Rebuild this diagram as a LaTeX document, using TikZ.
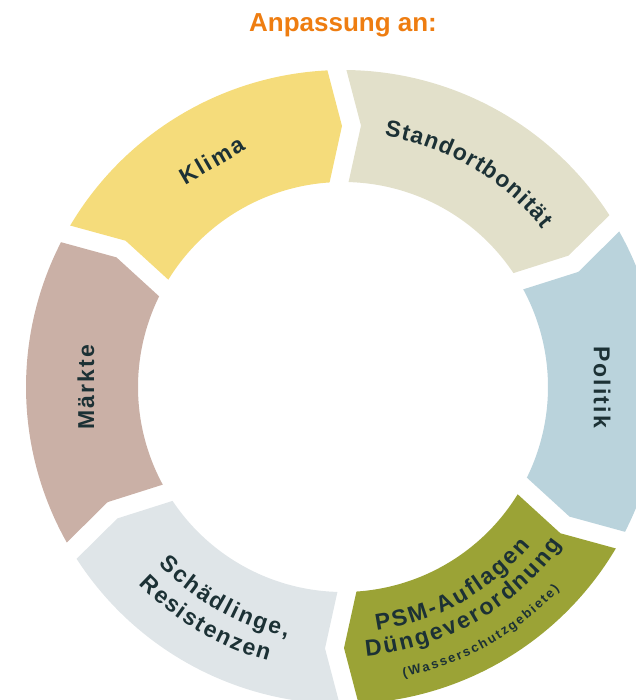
\documentclass[tikz,border=0pt]{standalone}
\usepackage{fontspec}
\setmainfont{Liberation Sans}
\usetikzlibrary{calc,decorations.text}
\definecolor{cKlima}{HTML}{F5DC7B}
\definecolor{cStand}{HTML}{E2E0CA}
\definecolor{cPol}{HTML}{BAD3DC}
\definecolor{cPSM}{HTML}{9BA336}
\definecolor{cSch}{HTML}{DFE5E8}
\definecolor{cMar}{HTML}{CAB0A6}
\definecolor{cText}{HTML}{1C3135}
\definecolor{cTitle}{HTML}{EE7D11}
\newcommand{\labsty}{\bfseries\fontsize{23}{27}\selectfont}
\newcommand{\smsty}{\bfseries\fontsize{13}{15}\selectfont}
\newcommand{\kA}{\kern1.2pt}
\newcommand{\kB}{\kern2.1pt}
\newcommand{\kC}{\kern1.75pt}
\newcommand{\kD}{\kern2.2pt}
\newcommand{\kE}{\kern2.4pt}
\newcommand{\kF}{\kern2.0pt}
\newcommand{\lk}{\kern2.15pt}
\makeatletter
\def\lsp#1{\lsp@i#1\@nil}
\def\lsp@i#1{\ifx#1\@nil\unkern\else#1\lk\expandafter\lsp@i\fi}
\makeatother
\tikzset{
  lab/.style={text=cText, font=\labsty, inner sep=0pt},
  titlesty/.style={text=cTitle, font=\bfseries\fontsize{26}{30}\selectfont, inner sep=0pt},
  curved/.style={decorate, decoration={text along path, text align=center, text color=cText, text={#1}}}
}
\begin{document}
\begin{tikzpicture}[x=1pt,y=1pt]
\useasboundingbox (-343,-313) rectangle (292,387);
\def\R{317}\def\r{205}\def\m{261}\def\g{9.5}\def\h{13.5}
\pgfmathsetmacro\aR{asin(\g/\R)}
\pgfmathsetmacro\ar{asin(\g/\r)}
\foreach \s/\col in {151.1/cKlima, 91.1/cStand, 31.1/cPol, -28.9/cPSM, -88.9/cSch, -148.9/cMar} {
  \pgfmathsetmacro\e{\s-60}
  \pgfmathsetmacro\aA{\s-\aR}
  \pgfmathsetmacro\aB{\e+\aR}
  \pgfmathsetmacro\aC{\e+\ar}
  \pgfmathsetmacro\aD{\s-\ar}
  \pgfmathsetmacro\eT{\e-90}
  \pgfmathsetmacro\sT{\s-90}
  \pgfmathsetmacro\tipoff{\h-\g}
  \pgfmathsetmacro\notchoff{\h+\g}
  \fill[\col] (\aA:\R pt) arc[start angle=\aA, end angle=\aB, radius=\R pt]
    -- ($(\e:\m pt)+(\eT:\tipoff pt)$)
    -- (\aC:\r pt) arc[start angle=\aC, end angle=\aD, radius=\r pt]
    -- ($(\s:\m pt)+(\sT:\notchoff pt)$) -- cycle;
}
\node[titlesty, anchor=base] (title) at (0,355) {Anpassung an:};
\node[lab, rotate=30] (klima) at (120:262pt) {\lsp{Klima}};
\node[lab, rotate=-90] (politik) at (0:259pt) {\lsp{Politik}};
\node[lab, rotate=90] (maerkte) at (180:257pt) {\lsp{Märkte}};
\path[curved={|\labsty|{S\kA}{t\kA}{a\kA}{n\kA}{d\kA}{o\kA}{r\kA}{t\kA}{b\kA}{o\kA}{n\kA}{i\kA}{t\kA}{ä\kA}{t}}] (109.5:254.5pt) arc[start angle=109.5, end angle=9.5, radius=254.5pt];
\path[curved={|\labsty|{S\kB}{c\kB}{h\kB}{ä\kB}{d\kB}{l\kB}{i\kB}{n\kB}{g\kB}{e\kB}{,}}] (190.7:256pt) arc[start angle=190.7, end angle=290.7, radius=256pt];
\path[curved={|\labsty|{R\kC}{e\kC}{s\kC}{i\kC}{s\kC}{t\kC}{e\kC}{n\kC}{z\kC}{e\kC}{n}}] (189.4:284pt) arc[start angle=189.4, end angle=289.4, radius=284pt];
\path[curved={|\labsty|{P\kD}{S\kD}{M\kD}{-\kD}{A\kD}{u\kD}{f\kD}{l\kD}{a\kD}{g\kD}{e\kD}{n}}] (248.8:246pt) arc[start angle=248.8, end angle=348.8, radius=246pt];
\path[curved={|\labsty|{D\kE}{ü\kE}{n\kE}{g\kE}{e\kE}{v\kE}{e\kE}{r\kE}{o\kE}{r\kE}{d\kE}{n\kE}{u\kE}{n\kE}{g}}] (249.6:270pt) arc[start angle=249.6, end angle=349.6, radius=270pt];
\path[curved={|\smsty|{(\kF}{W\kF}{a\kF}{s\kF}{s\kF}{e\kF}{r\kF}{s\kF}{c\kF}{h\kF}{u\kF}{t\kF}{z\kF}{g\kF}{e\kF}{b\kF}{i\kF}{e\kF}{t\kF}{e\kF}{)}}] (249.35:296.5pt) arc[start angle=249.35, end angle=349.35, radius=296.5pt];
\end{tikzpicture}
\end{document}
